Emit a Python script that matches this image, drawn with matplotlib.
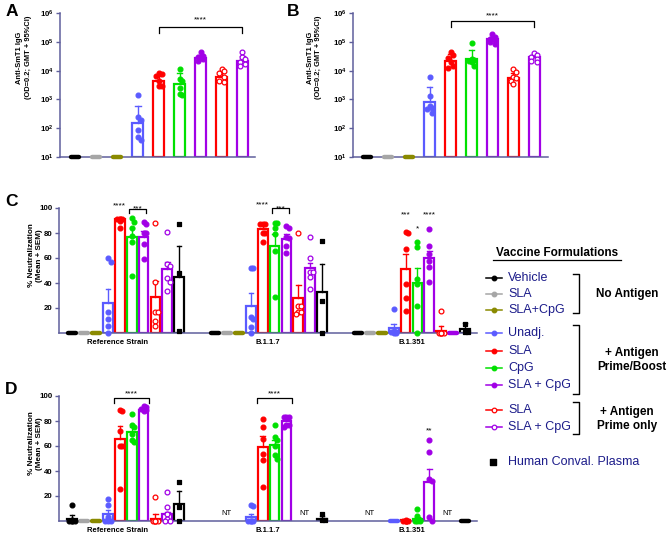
import numpy as np
import matplotlib
matplotlib.use('Agg')
import matplotlib.pyplot as plt

plt.rcParams['font.family'] = ['Liberation Sans', 'DejaVu Sans']
plt.rcParams['mathtext.fontset'] = 'custom'
plt.rcParams['mathtext.rm'] = 'Liberation Sans'
plt.rcParams['mathtext.bf'] = 'Liberation Sans:bold'

# vaccine groups in plotting order
groups = ['Vehicle', 'SLA', 'SLA+CpG', 'Unadj.', 'SLA', 'CpG', 'SLA + CpG',
          'SLA', 'SLA + CpG', 'Human Conval. Plasma']
colors = ['#000000', '#a6a6a6', '#8a8a00', '#5b5bff', '#ff0000', '#00e000',
          '#a100e6', '#ff0000', '#a100e6', '#000000']
filled = [True, True, True, True, True, True, True, False, False, True]
markers = ['o'] * 9 + ['s']

# panel A: anti-SmT1 IgG (no plasma group)
igg_a_gmt = [10, 10, 10, 150, 4500, 3300, 27000, 6000, 22000]
igg_a_upper = [10, 10, 10, 600, 6500, 8500, 35000, 9000, 32000]
igg_a_points = [
    [10] * 6, [10] * 6, [10] * 6,
    [1400, 250, 200, 85, 50, 40],
    [8000, 7500, 6500, 4500, 3000, 3000],
    [11000, 5000, 4500, 2500, 1600, 1400],
    [43000, 32000, 30000, 28000, 25000, 22000],
    [11000, 9500, 8000, 6000, 4500, 4000],
    [45000, 30000, 25000, 20000, 17000, 15000],
]

# panel B
igg_b_gmt = [10, 10, 10, 800, 22000, 26000, 130000, 5500, 30000]
igg_b_upper = [10, 10, 10, 2600, 38000, 52000, 150000, 8000, 36000]
igg_b_points = [
    [10] * 6, [10] * 6, [10] * 6,
    [6000, 1300, 600, 500, 450, 350],
    [45000, 36000, 28000, 20000, 15000, 12000],
    [90000, 26000, 24000, 22000, 20000, 14000],
    [190000, 150000, 130000, 115000, 95000, 85000],
    [11000, 9000, 6000, 5500, 4500, 3300],
    [42000, 35000, 30000, 26000, 22000, 20000],
]

strains = ['Reference Strain', 'B.1.1.7', 'B.1.351']
strain_label_pos = [3.8, 4.45, 4.5]

# panel C: % neutralization (None = not tested)
neut_c_mean = [
    [0, 0, 0, 24, 91, 77, 77, 29, 51, 45],
    [0, 0, 0, 22, 83, 70, 75, 28, 52, 33],
    [0, 0, 0, 4, 51, 40, 60, 2, 0, 3],
]
neut_c_upper = [
    [0, 0, 0, 35.5, 92, 84, 82, 41.5, 57, 70],
    [0, 0, 0, 32, 87, 79, 79, 38.5, 56, 55],
    [0, 0, 0, 7, 63, 52, 66, 5.5, 0, 8],
]
neut_c_points = [
    [[0] * 6, [0] * 6, [0] * 6, [60, 57, 17, 11, 6, 0], [91, 91, 91, 91, 90, 84],
     [92, 89, 84, 78, 73, 46], [89, 87, 80, 80, 71, 59], [88, 41, 17, 17, 10, 6],
     [81, 55, 54, 44, 41, 34], [87, 48, 1.5]],
    [[0] * 6, [0] * 6, [0] * 6, [52, 52, 13, 11, 5, 0], [87, 87, 87, 80, 80, 73],
     [88, 88, 84, 79, 66, 29], [86, 84, 77, 76, 70, 64], [80, 22, 22, 17, 17, 15],
     [77, 60, 49, 49, 45, 35], [74, 26, 0]],
    [[0] * 6, [0] * 6, [0] * 6, [19, 2, 1, 1, 0, 0], [81, 80, 67, 39, 28, 18],
     [73, 69, 43, 39, 22, 0], [83, 70, 63, 58, 53, 41], [18, 0, 0, 0, 0, 0],
     [0] * 6, [7, 1, 1]],
]

# panel D
neut_d_mean = [
    [2, 0, 0, 5.5, 66, 71, 89, 2, 6, 14],
    [None, None, None, 3, 59, 61, 80, None, None, 2],
    [None, None, None, 0, 0.5, 2, 31.5, None, None, 0],
]
neut_d_upper = [
    [4.5, 0, 0, 9, 76, 75, 90.5, 6, 7.5, 24],
    [None, None, None, 6, 68, 65, 82, None, None, 4],
    [None, None, None, 0, 0.5, 3, 42, None, None, 0],
]
neut_d_points = [
    [[13, 1, 0, 0, 0, 0], [0] * 6, [0] * 6, [18, 13, 3, 0, 0, 0], [89, 88, 72, 60, 60, 26],
     [86, 77, 75, 70, 65, 63], [92, 91, 90, 90, 89, 88], [19, 0, 0, 0, 0, 0],
     [23, 11, 6, 2, 0, 0], [31, 11, 0]],
    [None, None, None, [13, 12, 0, 0, 0, 0], [82, 75, 66, 54, 49, 27],
     [77, 67, 65, 60, 53, 50], [83, 83, 83, 77, 77, 75], None, None, [6, 1, 1]],
    [None, None, None, [0] * 6, [1, 0, 0, 0, 0, 0], [10, 4, 1, 0, 0, 0],
     [65, 55, 34, 32, 3, 0], None, None, [0, 0, 0]],
]

# significance: (strain, first group, last group, label, bracket y, text y)
sig_a = [(0, 4, 8, '****', 3.3e5, 7.2e5)]
sig_b = [(0, 4, 8, '****', 5.3e5, 1.0e6)]
sig_c = [(0, 4, 4, '****', None, 104), (0, 5, 6, '***', 99.3, 101.8),
         (1, 4, 4, '****', None, 104.8), (1, 5, 6, '***', 99.8, 102.2),
         (2, 4, 4, '***', None, 96.8), (2, 5, 5, '*', None, 86), (2, 6, 6, '****', None, 96.8)]
sig_d = [(0, 4, 6, '****', 98.2, 104), (1, 4, 6, '****', 98.2, 104), (2, 6, 6, '**', None, 75)]

axcol = '#5f5f9c'
navy = '#1c1c8a'

fig = plt.figure(figsize=(6.69, 5.35), dpi=100)
W, H = 669.0, 535.0


def px_axes(l, t, r, b):
    return fig.add_axes([l / W, 1 - b / H, (r - l) / W, (b - t) / H])


def style(ax):
    for s in ['top', 'right']:
        ax.spines[s].set_visible(False)
    for s in ['left', 'bottom']:
        ax.spines[s].set_color(axcol)
        ax.spines[s].set_linewidth(1.1)
    ax.tick_params(axis='y', length=3, width=1, color=axcol, labelsize=5.7, pad=1.5)
    ax.tick_params(axis='x', length=0, labelsize=5.5, pad=4)
    ax.set_facecolor('none')


def px_per_unit(ax):
    return ax.transData.transform([(1, 0)])[0, 0] - ax.transData.transform([(0, 0)])[0, 0]


def swarm(ax, x, vals, diam, maxoff):
    # simple beeswarm in pixel space
    disp = ax.transData.transform(np.column_stack([np.full(len(vals), x), vals]))
    cands = [0.0]
    k = 1
    while k * diam * 0.6 <= maxoff:
        cands += [k * diam * 0.6, -k * diam * 0.6]
        k += 1
    placed, offs = [], []
    for y in disp[:, 1]:
        best, bestd = 0.0, -1
        for c in cands:
            d = min([np.hypot(c - px, y - py) for px, py in placed] + [1e9])
            if d >= diam:
                best = c
                break
            if d > bestd:
                best, bestd = c, d
        placed.append((best, y))
        offs.append(best / px_per_unit(ax))
    return x + np.array(offs)


def draw_group(ax, x, mean, upper, pts, gi, width, floor, capw, blobw):
    col = colors[gi]
    if mean <= floor and max(pts) <= floor:
        ax.plot([x - blobw, x + blobw], [floor, floor], color=col, lw=3.2,
                solid_capstyle='round', clip_on=False, zorder=4)
        return
    if mean > floor:
        ax.bar(x, mean - floor, bottom=floor, width=width, facecolor='none',
               edgecolor=col, lw=1.6, zorder=2)
    if upper > mean:
        ax.plot([x, x], [mean, upper], color=col, lw=1, zorder=2)
        ax.plot([x - capw, x + capw], [upper, upper], color=col, lw=1, zorder=2)
    xs = swarm(ax, x, pts, 4.6, width * 0.5 * px_per_unit(ax))
    fc = col if filled[gi] else 'white'
    ax.scatter(xs, pts, s=12 if markers[gi] == 'o' else 11, marker=markers[gi],
               facecolor=fc, edgecolor=col, lw=0.9, zorder=5, clip_on=False)


def star(ax, x1, x2, label, yb, yt, drop):
    if yb is not None:
        ax.plot([x1, x1, x2, x2], [drop, yb, yb, drop], color='black', lw=0.9, clip_on=False)
    ax.annotate(label, (0.5 * (x1 + x2), yt), xytext=(0, -3.4),
                textcoords='offset points', ha='center', va='baseline', fontsize=6,
                annotation_clip=False)


# ---- panels A and B ----
for (l, r, xl, gmt, upp, pts, sig, labx) in [
        (60, 255, (-0.72, 8.6), igg_a_gmt, igg_a_upper, igg_a_points, sig_a, -0.145),
        (353, 548, (-0.67, 8.66), igg_b_gmt, igg_b_upper, igg_b_points, sig_b, -0.16)]:
    ax = px_axes(l, 13, r, 157)
    style(ax)
    ax.set_yscale('log')
    ax.set_ylim(10, 1e6)
    ax.set_xlim(*xl)
    ax.set_yticks([10 ** k for k in range(1, 7)])
    ax.set_yticklabels([r'$\mathbf{10^{%d}}$' % k for k in range(1, 7)])
    ax.yaxis.set_minor_locator(plt.NullLocator())
    ax.set_xticks([])
    ax.set_ylabel('Anti-SmT1 IgG\n(OD=0.2; GMT + 95%CI)', fontsize=5.4, fontweight='bold',
                  linespacing=1.25)
    ax.yaxis.set_label_coords(labx, 0.69)
    for i in range(len(gmt)):
        draw_group(ax, i, gmt[i], upp[i], pts[i], i, 0.52, 10, 0.13, 0.2)
    for (s, g1, g2, lab, yb, yt) in sig:
        star(ax, g1, g2, lab, yb, yt, yb * 0.62)

# ---- panels C and D ----
for (t, b, means, upps, ptss, sig, pad) in [
        (208, 333, neut_c_mean, neut_c_upper, neut_c_points, sig_c, 0.2),
        (396, 521, neut_d_mean, neut_d_upper, neut_d_points, sig_d, 0.45)]:
    ax = px_axes(59, t, 477, b)
    style(ax)
    ax.set_ylim(0, 100)
    ax.set_xlim(-1.1, 34.0)
    ax.set_yticks([20, 40, 60, 80, 100])
    ax.set_yticklabels(['20', '40', '60', '80', '100'], fontweight='bold')
    ax.set_xticks([s * 12 + strain_label_pos[s] for s in range(3)])
    ax.set_xticklabels(strains, fontweight='bold')
    ax.set_ylabel('% Neutralization\n(Mean + SEM)', fontsize=5.9, fontweight='bold',
                  linespacing=1.2)
    ax.yaxis.set_label_coords(-0.038, 0.62)
    for s in range(3):
        run = []
        for i in range(10):
            x = s * 12 + i
            if means[s][i] is None:
                run.append(x)
            else:
                draw_group(ax, x, means[s][i], upps[s][i], ptss[s][i], i, 0.82, 0, 0.18, 0.33)
            if run and (means[s][i] is not None or i == 9):
                ax.text(np.mean(run), 6, 'NT', fontsize=5.5, ha='center', va='center')
                run = []
    for (s, g1, g2, lab, yb, yt) in sig:
        x1, x2 = s * 12 + g1, s * 12 + g2
        if yb is not None:
            x1, x2 = x1 - pad, x2 + pad
        star(ax, x1, x2, lab, yb, yt, (yb or 0) - 3.5)

# ---- panel letters ----
for lab, x, y in [('A', 6, 4), ('B', 287, 4), ('C', 5, 194), ('D', 5, 382)]:
    fig.text(x / W, 1 - y / H, lab, fontsize=12.5, fontweight='bold', va='top', ha='left')

# ---- legend ----
lg = fig.add_axes([0, 0, 1, 1])
lg.set_xlim(0, W)
lg.set_ylim(H, 0)
lg.axis('off')
lg.text(557, 253, 'Vaccine Formulations', fontsize=8.5, fontweight='bold',
        ha='center', va='center')
lg.plot([493, 621], [260, 260], color='black', lw=0.9)
rows = [278, 294, 310, 333, 351, 368, 385, 410, 427, 462]
for i, y in enumerate(rows):
    fc = colors[i] if filled[i] else 'white'
    if markers[i] == 'o':
        lg.plot([486, 502], [y, y], color=colors[i], lw=1.1)
        lg.scatter([494], [y], s=11, facecolor=fc, edgecolor=colors[i], lw=0.9, zorder=3)
    else:
        lg.scatter([493], [y], s=13, marker='s', facecolor=fc, edgecolor=colors[i], zorder=3)
    lg.text(508, y, groups[i], fontsize=9, color=navy, ha='left', va='center')
for (y1, y2, txt, tx, ty) in [(274, 313, 'No Antigen', 627, 294),
                              (325, 394, '+ Antigen\nPrime/Boost', 632, 360),
                              (402, 434, '+ Antigen\nPrime only', 627, 419)]:
    lg.plot([573, 579, 579, 573], [y1, y1, y2, y2], color='black', lw=1)
    lg.text(tx, ty, txt, fontsize=8.5, fontweight='bold', ha='center', va='center',
            linespacing=1.15)

fig.savefig('out.png', dpi=100)
